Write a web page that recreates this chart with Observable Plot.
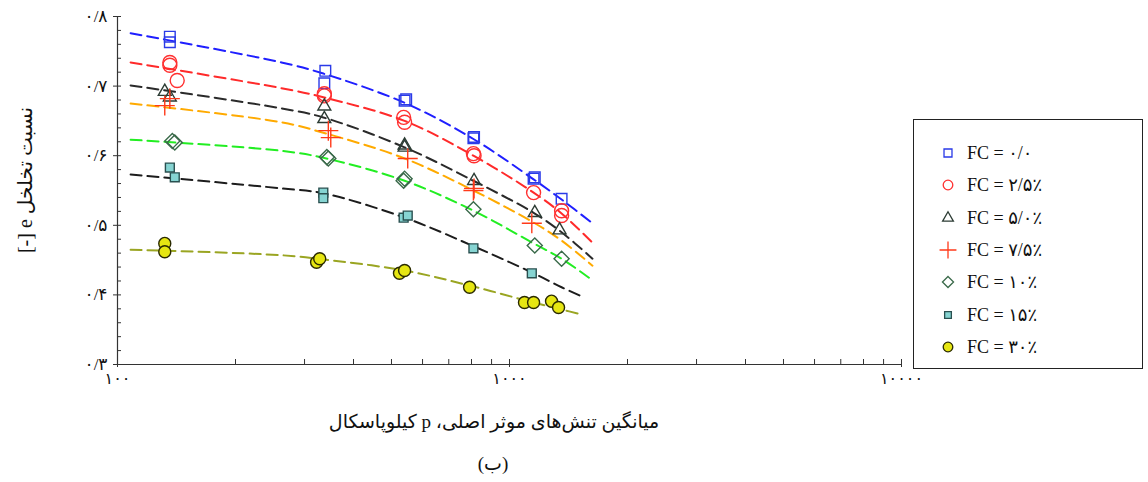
<!DOCTYPE html>
<html>
<head>
<meta charset="utf-8">
<script src="https://cdn.jsdelivr.net/npm/d3@7"></script>
<script src="https://cdn.jsdelivr.net/npm/@observablehq/plot@0.6"></script>
<style>
  body { margin: 0; background: #fff; }
  #wrap { position: relative; width: 1148px; height: 482px; font-family: "Liberation Serif", "DejaVu Sans", serif; color: #111; }
  .lbl { position: absolute; white-space: nowrap; }
  #legend { position: absolute; left: 913px; top: 119px; width: 230px; height: 250px; border: 1.5px solid #222; box-sizing: border-box; background: #fff; }
  .row { position: absolute; left: 0; height: 24px; display: flex; align-items: center; }
  .row svg { margin-left: 24px; }
  .row span { margin-left: 9px; font-size: 18px; direction: ltr; }
</style>
</head>
<body>
<div id="wrap"></div>
<script>
// ---- tick values and labels ----
const xTicks = [100, 1000, 10000];
const xTickLabels = ["۱۰۰", "۱۰۰۰", "۱۰۰۰۰"];
const xMinorTicks = [200, 300, 400, 500, 600, 700, 800, 900, 2000, 3000, 4000, 5000, 6000, 7000, 8000, 9000];
const yTicks = [0.3, 0.4, 0.5, 0.6, 0.7, 0.8];
const yTickLabels = ["۰/۳", "۰/۴", "۰/۵", "۰/۶", "۰/۷", "۰/۸"];
const yMinorTicks = [0.32, 0.34, 0.36, 0.38, 0.42, 0.44, 0.46, 0.48, 0.52, 0.54, 0.56, 0.58, 0.62, 0.64, 0.66, 0.68, 0.72, 0.74, 0.76, 0.78];

const seriesLabels = ["FC = ۰/۰", "FC = ۲/۵٪", "FC = ۵/۰٪", "FC = ۷/۵٪", "FC = ۱۰٪", "FC = ۱۵٪", "FC = ۳۰٪"];
const yLabel = "نسبت تخلخل e [-]";
const xLabel = "میانگین تنش‌های موثر اصلی، p کیلوپاسکال";
const caption = "(ب)";

// ---- measured points [p (kPa), e] ----
const fc0Points  = [[136,0.771],[136,0.763],[339,0.722],[337,0.704],[540,0.679],[545,0.681],[809,0.625],[812,0.627],[1152,0.567],[1160,0.569],[1358,0.538]];
const fc25Points = [[136,0.734],[136,0.730],[142,0.708],[337,0.689],[337,0.686],[537,0.655],[540,0.648],[812,0.600],[809,0.603],[1152,0.547],[1358,0.521],[1358,0.514]];
const fc5Points  = [[132,0.692],[136,0.684],[337,0.671],[337,0.653],[540,0.615],[540,0.612],[812,0.564],[1160,0.518],[1342,0.493]];
const fc75Points = [[136,0.682],[132,0.672],[345,0.636],[350,0.626],[550,0.596],[812,0.553],[809,0.550],[1140,0.503]];
const fc10Points = [[140,0.619],[138,0.621],[345,0.596],[342,0.598],[540,0.567],[537,0.564],[809,0.523],[1160,0.471],[1358,0.452]];
const fc15Points = [[136,0.583],[140,0.569],[335,0.547],[335,0.539],[537,0.511],[550,0.514],[809,0.467],[1140,0.431]];
const fc30Points = [[132,0.474],[132,0.462],[322,0.447],[328,0.452],[524,0.431],[540,0.435],[791,0.411],[1092,0.389],[1152,0.389],[1280,0.391],[1334,0.382]];

// ---- fitted (dashed) curves [p, e] ----
const fc0Curve  = [[108,0.776],[262,0.734],[335,0.718],[540,0.676],[809,0.624],[1152,0.566],[1358,0.537],[1628,0.503]];
const fc25Curve = [[108,0.734],[262,0.697],[335,0.684],[540,0.650],[809,0.600],[1152,0.547],[1358,0.517],[1628,0.475]];
const fc5Curve  = [[108,0.701],[262,0.668],[335,0.655],[540,0.612],[809,0.564],[1152,0.518],[1358,0.490],[1628,0.452]];
const fc75Curve = [[108,0.675],[262,0.648],[335,0.633],[540,0.596],[809,0.550],[1152,0.504],[1358,0.478],[1628,0.442]];
const fc10Curve = [[108,0.623],[262,0.607],[335,0.597],[540,0.564],[809,0.521],[1152,0.474],[1358,0.452],[1628,0.421]];
const fc15Curve = [[108,0.573],[262,0.553],[335,0.546],[540,0.511],[809,0.470],[1152,0.431],[1358,0.411],[1527,0.398]];
const fc30Curve = [[108,0.465],[262,0.457],[335,0.451],[540,0.435],[809,0.412],[1152,0.389],[1358,0.379],[1527,0.372]];

// ---- styles ----
const lineColors   = ["#1f1fff", "#ff2a2a", "#2a2a2a", "#ffaa00", "#22ee22", "#1c1c1c", "#9aa522"];
const markStroke   = ["#2a3ae8", "#ff3030", "#2c3c34", "#ff3a1a", "#3a6a4a", "#2a5050", "#2a2a00"];
const markFill     = ["none", "none", "none", "none", "none", "#86d4d2", "#e6e612"];
const markSymbol   = ["square", "circle", "triangle", "plus", "diamond2", "square", "circle"];
const markR        = [6, 7, 4.8, 6.5, 6.8, 5, 6];

const pointSets = [fc0Points, fc25Points, fc5Points, fc75Points, fc10Points, fc15Points, fc30Points];
const curveSets = [fc0Curve, fc25Curve, fc5Curve, fc75Curve, fc10Curve, fc15Curve, fc30Curve];

const lineMarks = curveSets.map((arr, k) =>
  Plot.line(arr.map(([p, e]) => ({p, e})), {
    x: "p", y: "e", stroke: lineColors[k], strokeWidth: 2, strokeDasharray: "11,6", curve: "catmull-rom"
  })
);
const dotMarks = pointSets.map((arr, k) =>
  Plot.dot(arr.map(([p, e]) => ({p, e})), {
    x: "p", y: "e", symbol: markSymbol[k], r: markR[k],
    stroke: markStroke[k], fill: markFill[k], strokeWidth: 1.4
  })
);

const chart = Plot.plot({
  width: 1148,
  height: 482,
  marginLeft: 117,
  marginRight: 247,
  marginTop: 16,
  marginBottom: 118,
  x: {type: "log", domain: [xTicks[0], xTicks[xTicks.length - 1]]},
  y: {domain: [yTicks[0], yTicks[yTicks.length - 1]]},
  style: {fontFamily: "'Liberation Serif', 'DejaVu Sans', serif", fontSize: "16px", color: "#111", background: "transparent", overflow: "visible"},
  marks: [
    ...lineMarks,
    ...dotMarks,
    Plot.ruleY([yTicks[0]], {stroke: "#333", strokeWidth: 1.2}),
    Plot.ruleX([xTicks[0]], {stroke: "#333", strokeWidth: 1.2}),
    Plot.axisY(yTicks, {tickSize: 4, tickPadding: 6, fontSize: 17, label: null,
      tickFormat: d => yTickLabels[yTicks.indexOf(d)], stroke: "#333"}),
    Plot.axisY(yMinorTicks.concat(yTicks), {tickSize: 4, dx: 4, label: null, tickFormat: () => "", stroke: "#333"}),
    Plot.axisX(xTicks, {tickSize: 3, tickPadding: 5, fontSize: 16, label: null,
      tickFormat: d => xTickLabels[xTicks.indexOf(d)], stroke: "#333"}),
    Plot.axisX(xMinorTicks.concat(xTicks), {tickSize: 5, dy: -5, label: null, tickFormat: () => "", stroke: "#333"})
  ]
});

const wrap = document.getElementById("wrap");
wrap.appendChild(chart);

function addLabel(text, left, top, size, rotate) {
  const el = document.createElement("div");
  el.className = "lbl";
  el.dir = "rtl";
  el.textContent = text;
  el.style.left = left + "px";
  el.style.top = top + "px";
  el.style.fontSize = size + "px";
  el.style.transform = "translate(-50%, -50%)" + (rotate ? " rotate(-90deg)" : "");
  wrap.appendChild(el);
}
addLabel(yLabel, 25, 180, 20, true);
addLabel(xLabel, 494, 421, 19, false);
addLabel(caption, 493, 463, 19, false);

// legend
const legend = document.createElement("div");
legend.id = "legend";
wrap.appendChild(legend);
const symMap = {square: d3.symbolSquare, circle: d3.symbolCircle, triangle: d3.symbolTriangle, plus: d3.symbolPlus, diamond2: d3.symbolDiamond2};
const legendR = [4.5, 4.8, 4, 5.5, 5, 3.8, 4.8];
seriesLabels.forEach((lab, k) => {
  const row = document.createElement("div");
  row.className = "row";
  row.style.top = (21 + k * 32.3) + "px";
  const svg = d3.create("svg").attr("width", 20).attr("height", 20).attr("viewBox", "-10 -10 20 20");
  svg.append("path")
    .attr("d", d3.symbol(symMap[markSymbol[k]], Math.PI * legendR[k] * legendR[k])())
    .attr("fill", markFill[k])
    .attr("stroke", markStroke[k])
    .attr("stroke-width", 1.3);
  row.appendChild(svg.node());
  const sp = document.createElement("span");
  sp.textContent = lab;
  row.appendChild(sp);
  legend.appendChild(row);
});
</script>
</body>
</html>
